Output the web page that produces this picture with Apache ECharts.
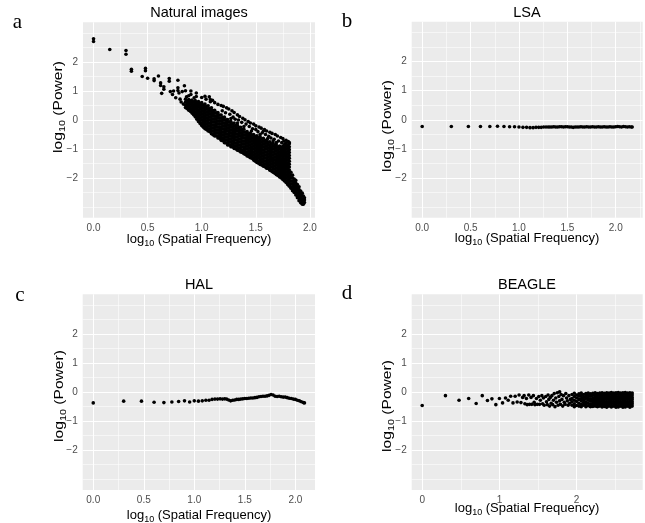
<!DOCTYPE html>
<html><head><meta charset="utf-8">
<script src="https://cdn.jsdelivr.net/npm/echarts@6/dist/echarts.min.js"></script>
<style>html,body{margin:0;padding:0;background:#fff}#c{width:645px;height:523px}</style>
</head><body><div id="c"></div>
<script>
// ---------- titles & tick labels ----------
const panelTitles = ['Natural images', 'LSA', 'HAL', 'BEAGLE'];
const panelLetters = ['a', 'b', 'c', 'd'];
const yTicks = [-2, -1, 0, 1, 2];
const yLabels = ['\u22122', '\u22121', '0', '1', '2'];
const yMinor = [-3, -2.5, -1.5, -0.5, 0.5, 1.5, 2.5, 3];
const xTicksABC = [0, 0.5, 1, 1.5, 2];
const xLabelsABC = ['0.0', '0.5', '1.0', '1.5', '2.0'];
const xMinorA = [0.25, 0.75, 1.25, 1.75];
const xMinorB = [0.25, 0.75, 1.25, 1.75, 2.25];
const xMinorC = [0.25, 0.75, 1.25, 1.75];
const xTicksD = [0, 1, 2];
const xLabelsD = ['0', '1', '2'];
const xMinorD = [0.5, 1.5, 2.5];

// ---------- panel a: Natural images ----------
const natSparse = [[0,2.80],[0,2.71],[0.15,2.43],[0.30,2.40],[0.30,2.27],[0.35,1.75],[0.35,1.68],[0.45,1.50],[0.48,1.78],[0.48,1.70],[0.50,1.44],[0.56,1.42],[0.56,1.36],[0.60,1.52],[0.62,1.28],[0.62,1.19],[0.65,1.15],[0.65,1.06],[0.63,0.92],[0.70,1.43],[0.70,1.34],[0.71,0.98],[0.74,1.00],[0.73,0.88],[0.76,0.77],[0.78,1.37],[0.78,1.11],[0.78,1.02],[0.79,0.93],[0.82,0.98],[0.84,1.18],[0.85,1.01],[0.90,1.00],[0.90,0.88],[0.95,0.93],[0.95,0.81],[0.80,0.72],[0.81,0.62],[0.83,0.55],[0.86,0.80],[0.88,0.84],[0.93,0.77],[1.00,0.78],[1.03,0.82],[1.04,0.72],[1.08,0.71],[1.08,0.63]];
const natUpper = [[1.07,0.80],[1.10,0.68],[1.12,0.60],[1.15,0.54],[1.18,0.50],[1.20,0.47],[1.23,0.42],[1.25,0.38],[1.28,0.32],[1.30,0.26],[1.33,0.18],[1.35,0.12],[1.38,0.06],[1.40,0.01],[1.43,-0.05],[1.45,-0.10],[1.48,-0.14],[1.50,-0.20],[1.53,-0.24],[1.55,-0.28],[1.58,-0.33],[1.60,-0.38],[1.63,-0.42],[1.65,-0.46],[1.68,-0.50],[1.70,-0.55],[1.73,-0.60],[1.75,-0.64],[1.78,-0.70],[1.80,-0.74],[1.81,-0.78],
[1.19,0.32],[1.22,0.25],[1.26,0.20],[1.29,0.10],[1.31,0.03],[1.34,0.00],[1.37,-0.08],[1.41,-0.14],[1.44,-0.22],[1.47,-0.30],[1.50,-0.33],[1.52,-0.40],[1.56,-0.44],[1.59,-0.50],[1.62,-0.56],[1.64,-0.62],[1.67,-0.66],[1.71,-0.72],[1.74,-0.78],[1.77,-0.82],[1.39,-0.22],[1.46,-0.38],[1.54,-0.50],[1.61,-0.64],[1.69,-0.78],[1.27,0.05],[1.33,-0.10],[1.57,-0.38],[1.66,-0.72],[1.76,-0.72]];
const natColX = [0.85,0.88,0.91,0.94,0.97,1.00,1.03,1.06,1.09,1.12,1.15,1.18,1.21,1.24,1.27,1.30,1.33,1.36,1.39,1.42,1.45,1.48,1.51,1.54,1.57,1.60,1.63,1.66,1.69,1.72,1.75,1.78,1.81,1.84,1.87,1.90,1.93,1.95];
const natColY = [
[0.72,0.62,0.52,0.43],
[0.71,0.61,0.51,0.41,0.34],
[0.69,0.59,0.49,0.39,0.29,0.24],
[0.67,0.57,0.47,0.37,0.27,0.17,0.11],
[0.64,0.54,0.44,0.34,0.24,0.14,0.04,-0.05],
[0.60,0.50,0.40,0.30,0.20,0.10,0.00,-0.10,-0.19],
[0.55,0.45,0.35,0.25,0.15,0.05,-0.05,-0.15,-0.25,-0.30],
[0.49,0.39,0.29,0.19,0.09,-0.01,-0.11,-0.21,-0.31,-0.38],
[0.42,0.32,0.22,0.12,0.02,-0.08,-0.18,-0.28,-0.38,-0.47],
[0.34,0.24,0.14,0.04,-0.06,-0.16,-0.26,-0.36,-0.46,-0.55],
[0.26,0.16,0.06,-0.04,-0.14,-0.24,-0.34,-0.44,-0.54,-0.62],
[0.17,0.07,-0.03,-0.13,-0.23,-0.33,-0.43,-0.53,-0.63,-0.70],
[0.10,0.00,-0.10,-0.20,-0.30,-0.40,-0.50,-0.60,-0.70,-0.78],
[0.02,-0.08,-0.18,-0.28,-0.38,-0.48,-0.58,-0.68,-0.78,-0.86],
[-0.05,-0.15,-0.25,-0.35,-0.45,-0.55,-0.65,-0.75,-0.85,-0.92],
[-0.10,-0.20,-0.30,-0.40,-0.50,-0.60,-0.70,-0.80,-0.90,-0.98],
[-0.18,-0.28,-0.38,-0.48,-0.58,-0.68,-0.78,-0.88,-0.98,-1.04],
[-0.25,-0.35,-0.45,-0.55,-0.65,-0.75,-0.85,-0.95,-1.05,-1.10],
[-0.32,-0.42,-0.52,-0.62,-0.72,-0.82,-0.92,-1.02,-1.12,-1.16],
[-0.40,-0.50,-0.60,-0.70,-0.80,-0.90,-1.00,-1.10,-1.20,-1.24],
[-0.45,-0.55,-0.65,-0.75,-0.85,-0.95,-1.05,-1.15,-1.25,-1.30],
[-0.50,-0.60,-0.70,-0.80,-0.90,-1.00,-1.10,-1.20,-1.30,-1.38],
[-0.54,-0.64,-0.74,-0.84,-0.94,-1.04,-1.14,-1.24,-1.34,-1.44,-1.46],
[-0.58,-0.68,-0.78,-0.88,-0.98,-1.08,-1.18,-1.28,-1.38,-1.48,-1.53],
[-0.63,-0.73,-0.83,-0.93,-1.03,-1.13,-1.23,-1.33,-1.43,-1.53,-1.59],
[-0.70,-0.80,-0.90,-1.00,-1.10,-1.20,-1.30,-1.40,-1.50,-1.60,-1.66],
[-0.75,-0.85,-0.95,-1.05,-1.15,-1.25,-1.35,-1.45,-1.55,-1.65,-1.73],
[-0.80,-0.90,-1.00,-1.10,-1.20,-1.30,-1.40,-1.50,-1.60,-1.70,-1.80],
[-0.86,-0.96,-1.06,-1.16,-1.26,-1.36,-1.46,-1.56,-1.66,-1.76,-1.86,-1.88],
[-0.90,-1.00,-1.10,-1.20,-1.30,-1.40,-1.50,-1.60,-1.70,-1.80,-1.90,-1.96],
[-0.90,-1.00,-1.10,-1.20,-1.30,-1.40,-1.50,-1.60,-1.70,-1.80,-1.90,-2.00,-2.05],
[-0.80,-0.90,-1.00,-1.10,-1.20,-1.30,-1.40,-1.50,-1.60,-1.70,-1.80,-1.90,-2.00,-2.10,-2.15],
[-0.82,-0.92,-1.02,-1.12,-1.22,-1.32,-1.42,-1.52,-1.62,-1.72,-1.82,-1.92,-2.02,-2.12,-2.22,-2.28],
[-1.90,-2.00,-2.10,-2.20,-2.30,-2.40,-2.44],
[-2.08,-2.18,-2.28,-2.38,-2.48,-2.58],
[-2.30,-2.40,-2.50,-2.60,-2.70,-2.78],
[-2.52,-2.62,-2.72,-2.82,-2.90],
[-2.68,-2.76,-2.84]
];
const natColX2 = [0.865,0.895,0.925,0.955,0.985,1.015,1.045,1.075,1.105,1.135,1.165,1.195,1.225,1.255,1.285,1.315,1.345,1.375,1.405,1.435,1.465,1.495,1.525,1.555,1.585,1.615,1.645,1.675,1.705,1.735,1.765,1.795,1.825,1.855,1.885,1.915,1.94];
const natColY2 = [
[0.67,0.57,0.47,0.40],
[0.66,0.56,0.46,0.36,0.30],
[0.63,0.53,0.43,0.33,0.23,0.18],
[0.60,0.50,0.40,0.30,0.20,0.10,0.03],
[0.57,0.47,0.37,0.27,0.17,0.07,-0.03,-0.12],
[0.52,0.42,0.32,0.22,0.12,0.02,-0.08,-0.18,-0.25],
[0.47,0.37,0.27,0.17,0.07,-0.03,-0.13,-0.23,-0.33],
[0.40,0.30,0.20,0.10,0.00,-0.10,-0.20,-0.30,-0.40],
[0.33,0.23,0.13,0.03,-0.07,-0.17,-0.27,-0.37,-0.47,-0.51],
[0.25,0.15,0.05,-0.05,-0.15,-0.25,-0.35,-0.45,-0.55],
[0.17,0.07,-0.03,-0.13,-0.23,-0.33,-0.43,-0.53,-0.63],
[0.09,-0.01,-0.11,-0.21,-0.31,-0.41,-0.51,-0.61,-0.71],
[0.01,-0.09,-0.19,-0.29,-0.39,-0.49,-0.59,-0.69,-0.79],
[-0.06,-0.16,-0.26,-0.36,-0.46,-0.56,-0.66,-0.76,-0.86],
[-0.13,-0.23,-0.33,-0.43,-0.53,-0.63,-0.73,-0.83,-0.93],
[-0.19,-0.29,-0.39,-0.49,-0.59,-0.69,-0.79,-0.89,-0.99],
[-0.26,-0.36,-0.46,-0.56,-0.66,-0.76,-0.86,-0.96,-1.06],
[-0.33,-0.43,-0.53,-0.63,-0.73,-0.83,-0.93,-1.03,-1.12],
[-0.41,-0.51,-0.61,-0.71,-0.81,-0.91,-1.01,-1.11,-1.19],
[-0.47,-0.57,-0.67,-0.77,-0.87,-0.97,-1.07,-1.17,-1.26],
[-0.52,-0.62,-0.72,-0.82,-0.92,-1.02,-1.12,-1.22,-1.32],
[-0.57,-0.67,-0.77,-0.87,-0.97,-1.07,-1.17,-1.27,-1.37,-1.42],
[-0.61,-0.71,-0.81,-0.91,-1.01,-1.11,-1.21,-1.31,-1.41,-1.49],
[-0.65,-0.75,-0.85,-0.95,-1.05,-1.15,-1.25,-1.35,-1.45,-1.55],
[-0.71,-0.81,-0.91,-1.01,-1.11,-1.21,-1.31,-1.41,-1.51,-1.61],
[-0.77,-0.87,-0.97,-1.07,-1.17,-1.27,-1.37,-1.47,-1.57,-1.67],
[-0.82,-0.92,-1.02,-1.12,-1.22,-1.32,-1.42,-1.52,-1.62,-1.72,-1.76],
[-0.88,-0.98,-1.08,-1.18,-1.28,-1.38,-1.48,-1.58,-1.68,-1.78,-1.83],
[-0.93,-1.03,-1.13,-1.23,-1.33,-1.43,-1.53,-1.63,-1.73,-1.83,-1.91],
[-0.95,-1.05,-1.15,-1.25,-1.35,-1.45,-1.55,-1.65,-1.75,-1.85,-1.95,-2.00],
[-0.85,-0.95,-1.05,-1.15,-1.25,-1.35,-1.45,-1.55,-1.65,-1.75,-1.85,-1.95,-2.05,-2.10],
[-0.87,-0.97,-1.07,-1.17,-1.27,-1.37,-1.47,-1.57,-1.67,-1.77,-1.87,-1.97,-2.07,-2.17,-2.22],
[-1.80,-1.90,-2.00,-2.10,-2.20,-2.30,-2.35],
[-2.03,-2.13,-2.23,-2.33,-2.43,-2.50],
[-2.22,-2.32,-2.42,-2.52,-2.62,-2.68],
[-2.45,-2.55,-2.65,-2.75,-2.85],
[-2.62,-2.72,-2.82,-2.90]
];

// ---------- panel b: LSA ----------
const lsa = [[0,-0.23],[0.301,-0.23],[0.477,-0.23],[0.602,-0.23],[0.699,-0.23],[0.778,-0.22],[0.845,-0.23],[0.903,-0.24],[0.954,-0.24],[1.000,-0.25],[1.041,-0.26],[1.079,-0.26],[1.114,-0.27],[1.146,-0.27],[1.176,-0.26],[1.204,-0.26],[1.230,-0.26],[1.255,-0.25],[1.279,-0.25],[1.301,-0.25],
[1.32,-0.25],[1.34,-0.25],[1.36,-0.24],[1.38,-0.25],[1.40,-0.25],[1.42,-0.24],[1.44,-0.24],[1.46,-0.25],[1.48,-0.24],[1.50,-0.24],[1.52,-0.25],[1.54,-0.25],[1.56,-0.26],[1.58,-0.25],[1.60,-0.25],[1.62,-0.25],[1.64,-0.24],[1.66,-0.25],[1.68,-0.25],[1.70,-0.24],[1.72,-0.25],[1.74,-0.25],[1.76,-0.24],[1.78,-0.25],[1.80,-0.25],[1.82,-0.24],[1.84,-0.25],[1.86,-0.25],[1.88,-0.24],[1.90,-0.25],[1.92,-0.25],[1.94,-0.24],[1.96,-0.25],[1.98,-0.25],[2.00,-0.24],[2.02,-0.23],[2.04,-0.24],[2.06,-0.25],[2.08,-0.23],[2.10,-0.24],[2.12,-0.25],[2.14,-0.24],[2.16,-0.25],[2.17,-0.25]];

// ---------- panel c: HAL ----------
const hal = [[0,-0.37],[0.301,-0.31],[0.477,-0.31],[0.602,-0.35],[0.699,-0.36],[0.778,-0.34],[0.845,-0.32],[0.903,-0.30],[0.954,-0.34],[1.000,-0.30],[1.041,-0.31],[1.079,-0.30],[1.114,-0.28],[1.146,-0.28],[1.176,-0.25],[1.204,-0.24],[1.230,-0.24],[1.255,-0.23],[1.279,-0.24],[1.301,-0.23],
[1.32,-0.24],[1.34,-0.27],[1.36,-0.30],[1.38,-0.28],[1.40,-0.27],[1.42,-0.25],[1.44,-0.25],[1.46,-0.24],[1.48,-0.23],[1.50,-0.22],[1.52,-0.22],[1.54,-0.21],[1.56,-0.20],[1.58,-0.20],[1.60,-0.19],[1.62,-0.18],[1.64,-0.16],[1.66,-0.15],[1.68,-0.14],[1.70,-0.14],[1.72,-0.13],[1.74,-0.11],[1.76,-0.08],[1.78,-0.10],[1.80,-0.14],[1.82,-0.15],[1.84,-0.14],[1.86,-0.16],[1.88,-0.17],[1.90,-0.17],[1.92,-0.19],[1.94,-0.21],[1.96,-0.22],[1.98,-0.24],[2.00,-0.25],[2.02,-0.28],[2.04,-0.30],[2.06,-0.33],[2.08,-0.36],[2.09,-0.37]];

// ---------- panel d: BEAGLE ----------
const beagleSparse = [[0,-0.46],[0.301,-0.12],[0.477,-0.28],[0.602,-0.22],[0.699,-0.39],[0.778,-0.12],[0.845,-0.29],[0.903,-0.23],[0.954,-0.43],[1.000,-0.22],[1.041,-0.37],[1.079,-0.20],[1.114,-0.28],[1.146,-0.14],[1.176,-0.37],[1.204,-0.14],[1.230,-0.34],[1.255,-0.10],[1.279,-0.36],[1.301,-0.18],
[1.32,-0.12],[1.33,-0.40],[1.35,-0.22],[1.36,-0.43],[1.38,-0.10],[1.39,-0.42],[1.41,-0.18],[1.42,-0.42],[1.44,-0.12],[1.45,-0.35],[1.46,-0.43],[1.48,-0.22],[1.49,-0.42],[1.51,-0.15],[1.52,-0.42],[1.53,-0.28],[1.55,-0.12],[1.56,-0.40],[1.57,-0.20],[1.58,-0.45],[1.60,-0.15],[1.61,-0.33],[1.62,-0.43],[1.63,-0.10],[1.64,-0.25],[1.65,-0.48],[1.66,-0.18],[1.67,-0.38],[1.68,-0.12],[1.69,-0.43],[1.70,-0.28],[1.71,-0.05],[1.72,-0.50],[1.73,-0.20],[1.74,-0.35],[1.75,-0.02],[1.76,-0.45],[1.77,-0.15],[1.78,0.01],[1.78,-0.30],[1.79,-0.42],[1.80,-0.08],[1.81,-0.25],[1.82,-0.48],[1.83,-0.12],[1.84,-0.35],[1.85,-0.42],[1.86,-0.05],[1.87,-0.20],[1.88,-0.30],[1.89,-0.45],[1.90,-0.12],[1.91,-0.38],[1.92,-0.25]];
const beagleColX = [1.94,1.97,2.00,2.03,2.06,2.09,2.12,2.15,2.18,2.21,2.24,2.27,2.30,2.33,2.36,2.39,2.42,2.45,2.48,2.51,2.54,2.57,2.60,2.63,2.66,2.69,2.72];
const beagleColY = [
[-0.08,-0.22,-0.33,-0.45],
[-0.04,-0.15,-0.28,-0.40,-0.50],
[-0.10,-0.20,-0.32,-0.46],
[-0.06,-0.14,-0.25,-0.38,-0.48],
[-0.03,-0.12,-0.22,-0.30,-0.42,-0.50],
[-0.08,-0.18,-0.27,-0.36,-0.45],
[-0.05,-0.13,-0.22,-0.33,-0.40,-0.50],
[-0.03,-0.10,-0.19,-0.28,-0.38,-0.47],
[-0.06,-0.14,-0.24,-0.31,-0.42,-0.50],
[-0.04,-0.11,-0.20,-0.28,-0.36,-0.44,-0.49],
[-0.02,-0.09,-0.17,-0.25,-0.33,-0.41,-0.48],
[-0.05,-0.12,-0.20,-0.27,-0.35,-0.42,-0.50],
[-0.03,-0.10,-0.18,-0.25,-0.33,-0.40,-0.48],
[-0.02,-0.09,-0.16,-0.24,-0.31,-0.39,-0.46,-0.51],
[-0.04,-0.11,-0.19,-0.26,-0.34,-0.41,-0.49],
[-0.02,-0.09,-0.17,-0.24,-0.32,-0.39,-0.47,-0.52],
[-0.03,-0.10,-0.18,-0.25,-0.33,-0.40,-0.48],
[-0.01,-0.08,-0.16,-0.23,-0.31,-0.38,-0.46,-0.51],
[-0.03,-0.10,-0.18,-0.25,-0.33,-0.40,-0.48],
[-0.02,-0.09,-0.17,-0.24,-0.32,-0.39,-0.47,-0.52],
[-0.01,-0.08,-0.16,-0.23,-0.31,-0.38,-0.46,-0.51],
[-0.03,-0.10,-0.18,-0.25,-0.33,-0.40,-0.48],
[-0.02,-0.09,-0.17,-0.24,-0.32,-0.39,-0.47,-0.52],
[-0.01,-0.08,-0.16,-0.23,-0.31,-0.38,-0.46,-0.51],
[-0.03,-0.10,-0.18,-0.25,-0.33,-0.40,-0.48],
[-0.02,-0.09,-0.17,-0.24,-0.32,-0.39,-0.47,-0.52],
[-0.03,-0.10,-0.18,-0.25,-0.33,-0.40,-0.48]
];

// ---------- build ----------
function cols(xs, ys) { const out = []; xs.forEach((x, i) => ys[i].forEach(y => out.push([x, y]))); return out; }
const dataA = natSparse.concat(natUpper, cols(natColX, natColY), cols(natColX2, natColY2));
const dataB = lsa;
const dataC = hal;
const dataD = beagleSparse.concat(cols(beagleColX, beagleColY));

const FONT = 'Liberation Sans, Arial, sans-serif';
const yRange = [-3.37, 3.37];
const panels = [
  { grid: { left: 83, top: 22.3, width: 232, height: 195.5 }, x: [-0.0975, 2.0475], ticks: xTicksABC, labels: xLabelsABC, minor: xMinorA, data: dataA },
  { grid: { left: 411.7, top: 21.8, width: 231, height: 196 }, x: [-0.1085, 2.2785], ticks: xTicksABC, labels: xLabelsABC, minor: xMinorB, data: dataB },
  { grid: { left: 82.7, top: 294.3, width: 232.3, height: 195.7 }, x: [-0.1045, 2.1945], ticks: xTicksABC, labels: xLabelsABC, minor: xMinorC, data: dataC },
  { grid: { left: 411.7, top: 294.3, width: 231, height: 195.7 }, x: [-0.136, 2.856], ticks: xTicksD, labels: xLabelsD, minor: xMinorD, data: dataD }
];

const option = { animation: false, grid: [], xAxis: [], yAxis: [], series: [], graphic: [] };
panels.forEach((p, i) => {
  option.grid.push(Object.assign({ show: true, backgroundColor: '#EBEBEB', borderWidth: 0, containLabel: false }, p.grid));
  option.xAxis.push({
    type: 'value', gridIndex: i, min: p.x[0], max: p.x[1],
    axisLine: { show: false }, splitLine: { show: false },
    axisTick: { show: true, length: 3, customValues: p.ticks, lineStyle: { color: '#333333', width: 1 } },
    axisLabel: { customValues: p.ticks, margin: 5, color: '#4D4D4D', fontSize: 10, fontFamily: FONT,
      formatter: v => { const k = p.ticks.indexOf(v); return k >= 0 ? p.labels[k] : ''; } }
  });
  option.yAxis.push({
    type: 'value', gridIndex: i, min: yRange[0], max: yRange[1],
    axisLine: { show: false }, splitLine: { show: false },
    axisTick: { show: true, length: 3, customValues: yTicks, lineStyle: { color: '#333333', width: 1 } },
    axisLabel: { customValues: yTicks, margin: 5, color: '#4D4D4D', fontSize: 10, fontFamily: FONT,
      formatter: v => { const k = yTicks.indexOf(v); return k >= 0 ? yLabels[k] : ''; } }
  });
  const ml = [];
  p.minor.forEach(v => ml.push({ xAxis: v, lineStyle: { width: 0.55 } }));
  yMinor.forEach(v => ml.push({ yAxis: v, lineStyle: { width: 0.55 } }));
  p.ticks.forEach(v => ml.push({ xAxis: v, lineStyle: { width: 1.1 } }));
  yTicks.forEach(v => ml.push({ yAxis: v, lineStyle: { width: 1.1 } }));
  option.series.push({
    type: 'scatter', xAxisIndex: i, yAxisIndex: i, data: p.data, z: 10,
    symbol: 'circle', symbolSize: 3.6, itemStyle: { color: '#000000', opacity: 1 }, silent: true,
    markLine: { z: 1, silent: true, symbol: ['none', 'none'], label: { show: false }, animation: false,
      lineStyle: { color: '#FFFFFF', type: 'solid', opacity: 1 }, emphasis: { disabled: true }, data: ml }
  });
});

function plain(x, y, text, size) {
  return { type: 'text', x: x, y: y, silent: true,
    style: { text: text, fill: '#000', font: size + 'px ' + FONT, align: 'center', verticalAlign: 'middle' } };
}
function logTitle(x, y, rest, rot, stretch) {
  return { type: 'text', x: x, y: y, rotation: rot || 0, scaleX: stretch || 1, silent: true,
    style: { text: '{m|log}{s|10}{m| ' + rest + '}', align: 'center', verticalAlign: 'middle',
      rich: { m: { fill: '#000', fontSize: 13, fontFamily: FONT, lineHeight: 18 },
              s: { fill: '#000', fontSize: 9, fontFamily: FONT, lineHeight: 18, verticalAlign: 'bottom' } } } };
}
const titlePos = [[199, 13], [527, 13], [199, 285], [527, 285]];
const letterPos = [[17.5, 22], [347, 21], [20, 295], [347, 293]];
const xTitlePos = [[199, 239], [527, 238], [199, 515], [527, 508]];
const yTitlePos = [[58, 107], [387, 126], [59, 396], [387, 406]];
panels.forEach((p, i) => {
  option.graphic.push(plain(titlePos[i][0], titlePos[i][1], panelTitles[i], 14.5));
  option.graphic.push({ type: 'text', x: letterPos[i][0], y: letterPos[i][1], silent: true,
    style: { text: panelLetters[i], fill: '#000', font: '21px "Liberation Serif", "DejaVu Serif", serif', align: 'center', verticalAlign: 'middle' } });
  option.graphic.push(logTitle(xTitlePos[i][0], xTitlePos[i][1], '(Spatial Frequency)', 0, 1));
  option.graphic.push(logTitle(yTitlePos[i][0], yTitlePos[i][1], '(Power)', Math.PI / 2, 1.2));
});

const chart = echarts.init(document.getElementById('c'), null, { renderer: 'canvas' });
chart.setOption(option);
</script></body></html>
